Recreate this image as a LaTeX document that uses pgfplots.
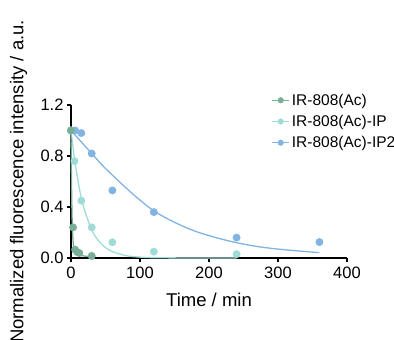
\documentclass[border=0pt]{standalone}
\usepackage{pgfplots}
\pgfplotsset{compat=1.18}
\usepackage{fontspec}
\setmainfont{Liberation Sans}
\definecolor{cg}{HTML}{78AF96}
\definecolor{cc}{HTML}{A0DCD7}
\definecolor{cb}{HTML}{82B4E1}
\begin{document}
\begin{tikzpicture}
\begin{axis}[
  at={(0,0)}, anchor=origin,
  scale only axis, width=276pt, height=153pt,
  xmin=0, xmax=400, ymin=0, ymax=1.2,
  axis lines=left, axis line style={-, line width=1.1pt, black},
  tick style={line width=1.1pt, black}, tick align=outside, major tick length=4pt,
  xtick={0,100,200,300,400}, ytick={0,0.4,0.8,1.2},
  yticklabel style={/pgf/number format/.cd, fixed, fixed zerofill, precision=1},
  /pgf/number format/assume math mode=true,
  ticklabel style={font=\fontsize{16.5}{18}\selectfont},
  xticklabel style={yshift=-1pt},
  xlabel={Time / min}, ylabel={Normalized fluorescence intensity / a.u.},
  label style={font=\fontsize{18.5}{20}\selectfont},
  xlabel style={at={(axis description cs:0.5,-0.275)}, anchor=center},
  ylabel style={at={(axis description cs:-0.19,0.5)}, anchor=center},
  clip=false,
  legend style={draw=none, fill=none, at={(0.715,1.10)}, anchor=north west,
    font=\fontsize{15.5}{17}\selectfont, row sep=4.5pt, legend cell align=left},
  legend image code/.code={\draw[#1, line width=1.4pt] (0pt,0pt) -- (17pt,0pt); \fill[#1] (8.5pt,0pt) circle (2.8pt);},
]
\addlegendimage{cg}\addlegendentry{IR-808(Ac)}
\addlegendimage{cc}\addlegendentry{IR-808(Ac)-IP}
\addlegendimage{cb}\addlegendentry{IR-808(Ac)-IP2}
% blue fit
\addplot[cb, line width=1.3pt, smooth, forget plot] coordinates {
(0,1.0) (15,0.91) (30,0.82) (45,0.73) (60,0.65) (90,0.50) (120,0.37) (150,0.28) (180,0.21) (210,0.16) (240,0.12) (270,0.09) (300,0.07) (330,0.055) (360,0.042)};
\addplot[only marks, mark=*, mark size=3.7pt, cb, forget plot] coordinates {
(0,1.0) (6,1.0) (15,0.98) (30,0.82) (60,0.53) (120,0.36) (240,0.16) (360,0.125)};
% cyan fit
\addplot[cc, line width=1.3pt, smooth, forget plot] coordinates {
(0,1.0) (5,0.78) (10,0.61) (15,0.47) (20,0.37) (30,0.22) (40,0.135) (50,0.082) (60,0.05) (80,0.018) (100,0.007) (120,0.0025) (160,0.0005) (200,0) (240,0)};
\addplot[only marks, mark=*, mark size=3.7pt, cc, forget plot] coordinates {
(0,1.0) (5,0.76) (15,0.45) (30,0.24) (60,0.123) (120,0.05) (240,0.03)};
% green fit
\addplot[cg, line width=1.3pt, smooth, forget plot] coordinates {
(0,1.0) (0.5,0.70) (1,0.49) (1.5,0.34) (2,0.24) (3,0.13) (4,0.08) (5,0.05) (7,0.035) (10,0.025) (20,0.015) (30,0.01)};
\addplot[only marks, mark=*, mark size=3.7pt, cg, forget plot] coordinates {
(0,1.0) (3,0.24) (6,0.066) (9,0.047) (12,0.039) (30,0.016)};
\end{axis}
\pgfresetboundingbox
\path[use as bounding box] (-71pt,-82pt) rectangle (323pt,258pt);
\end{tikzpicture}
\end{document}
